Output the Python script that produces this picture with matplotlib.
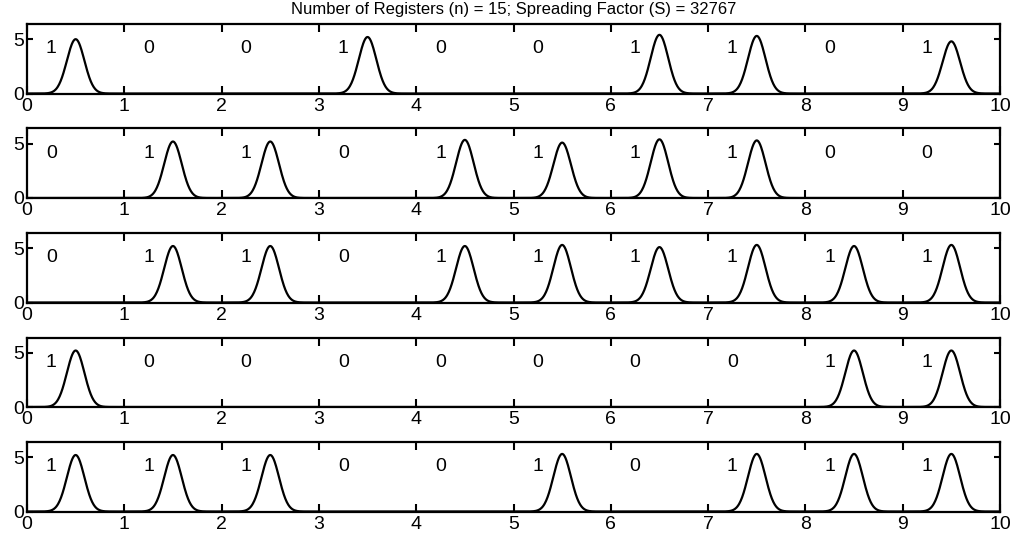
import matplotlib
matplotlib.use("Agg")
import matplotlib.pyplot as plt
import numpy as np

# bits of each register output, one row per subplot
bits_row1 = [1, 0, 0, 1, 0, 0, 1, 1, 0, 1]
bits_row2 = [0, 1, 1, 0, 1, 1, 1, 1, 0, 0]
bits_row3 = [0, 1, 1, 0, 1, 1, 1, 1, 1, 1]
bits_row4 = [1, 0, 0, 0, 0, 0, 0, 0, 1, 1]
bits_row5 = [1, 1, 1, 0, 0, 1, 0, 1, 1, 1]

# peak height of the pulse drawn in each bit slot (0 where the bit is 0)
peaks_row1 = [5.0, 0, 0, 5.2, 0, 0, 5.4, 5.3, 0, 4.8]
peaks_row2 = [0, 5.2, 5.2, 0, 5.35, 5.1, 5.4, 5.3, 0, 0]
peaks_row3 = [0, 5.2, 5.2, 0, 5.2, 5.3, 5.1, 5.3, 5.2, 5.3]
peaks_row4 = [5.2, 0, 0, 0, 0, 0, 0, 0, 5.2, 5.2]
peaks_row5 = [5.2, 5.2, 5.2, 0, 0, 5.3, 0, 5.3, 5.3, 5.3]

pulse_sigma = 0.09
x_ticks = list(range(0, 11))
y_ticks = [0, 5]
title = "Number of Registers (n) = 15; Spreading Factor (S) = 32767"

rows = [
    (bits_row1, peaks_row1),
    (bits_row2, peaks_row2),
    (bits_row3, peaks_row3),
    (bits_row4, peaks_row4),
    (bits_row5, peaks_row5),
]

plt.rcParams["font.family"] = ["Liberation Sans", "DejaVu Sans"]

W, H = 1031, 543
fig = plt.figure(figsize=(W / 100, H / 100), dpi=100)

left, right = 27, 1000
tops = [24, 128.5, 233, 337.5, 442]
height = 69.5

x = np.linspace(0, 10, 2001)
for k, (bits, peaks) in enumerate(rows):
    ax = fig.add_axes([left / W, 1 - (tops[k] + height) / H,
                       (right - left) / W, height / H])
    y = np.zeros_like(x)
    for i, amp in enumerate(peaks):
        y += amp * np.exp(-0.5 * ((x - (i + 0.5)) / pulse_sigma) ** 2)
    ax.plot(x, y, color="black", linewidth=1.6)
    for i, b in enumerate(bits):
        ax.text(i + 0.25, 4.1, str(b), ha="center", va="center", fontsize=14)
    ax.set_xlim(0, 10)
    ax.set_ylim(0, 6.4)
    ax.set_xticks(x_ticks)
    ax.set_yticks(y_ticks)
    ax.tick_params(axis="both", direction="in", top=True, right=True,
                   labelsize=14, width=1.5)
    ax.tick_params(axis="x", length=6, pad=3)
    ax.tick_params(axis="y", length=4, pad=2)
    for s in ax.spines.values():
        s.set_linewidth(1.6)
    if k == 0:
        ax.set_title(title, fontsize=12, pad=7)

fig.savefig("out.png", dpi=100)
